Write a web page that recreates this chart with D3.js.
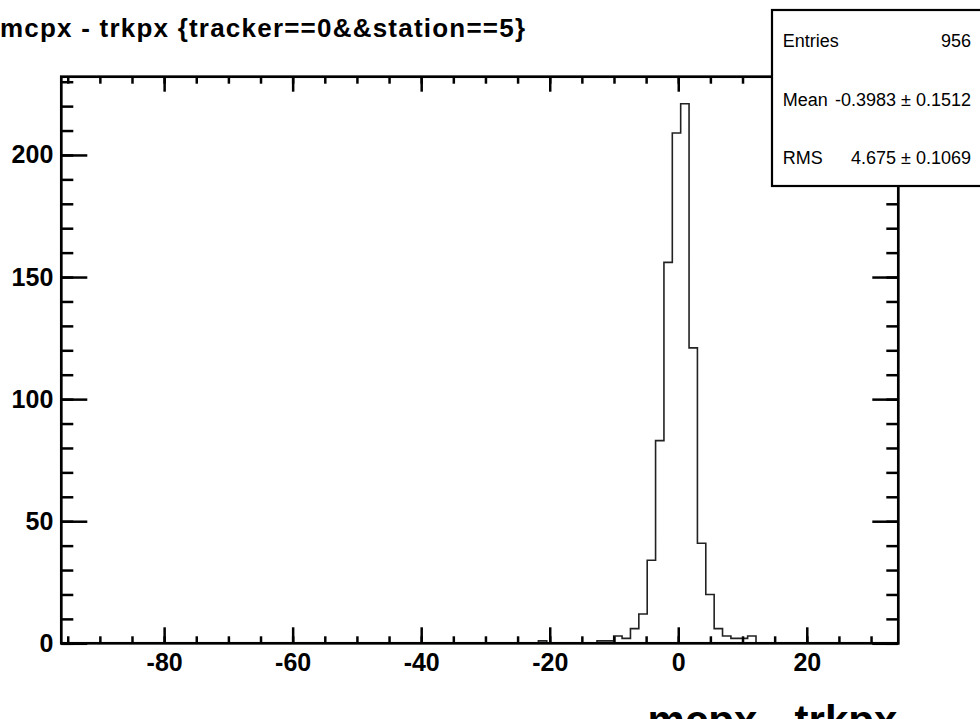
<!DOCTYPE html>
<html>
<head>
<meta charset="utf-8">
<script src="https://cdn.jsdelivr.net/npm/d3@7"></script>
<style>
  html, body { margin: 0; padding: 0; background: #fff; overflow: hidden; }
  svg { display: block; font-family: "Liberation Sans", Arial, sans-serif; }
</style>
</head>
<body>
<div id="chart"></div>
<script>
// mcpx - trkpx, 100 equal bins between xMin and xMax
const xMin = -96.0;
const xMax = 34.24;
const yMax = 232.05;
const counts = [
  0, 0, 0, 0, 0, 0, 0, 0, 0, 0,
  0, 0, 0, 0, 0, 0, 0, 0, 0, 0,
  0, 0, 0, 0, 0, 0, 0, 0, 0, 0,
  0, 0, 0, 0, 0, 0, 0, 0, 0, 0,
  0, 0, 0, 0, 0, 0, 0, 0, 0, 0,
  0, 0, 0, 0, 0, 0, 0, 1, 0, 0,
  0, 0, 0, 0, 1, 1, 3, 2, 6, 12,
  34, 83, 156, 209, 221, 121, 41, 20, 6, 3,
  2, 2, 3, 0, 0, 0, 0, 0, 0, 0,
  0, 0, 0, 0, 0, 0, 0, 0, 0, 0
];
const xMajorTicks = [-80, -60, -40, -20, 0, 20];
const yMajorTicks = [0, 50, 100, 150, 200];
const statLabels = ['Entries', 'Mean', 'RMS'];
const statValues = ['956', '-0.3983 \u00b1 0.1512', '4.675 \u00b1 0.1069'];
const title = 'mcpx - trkpx {tracker==0&&station==5}';
const xTitle = 'mcpx - trkpx';

const width = 980;
const height = 719;
const margin = {top: 76.7, right: 81.7, bottom: 75.7, left: 61.3};

const svg = d3.select('#chart')
  .append('svg')
  .attr('width', width)
  .attr('height', height);

const x = d3.scaleLinear()
  .domain([xMin, xMax])
  .range([margin.left, width - margin.right]);

const y = d3.scaleLinear()
  .domain([0, yMax])
  .range([height - margin.bottom, margin.top]);

const xMinor = d3.range(-95, xMax, 5);
const yMinor = d3.range(0, yMax, 10);
const binWidth = (xMax - xMin) / counts.length;

// step outline of the histogram
const pts = [[xMin, 0]];
counts.forEach((c, i) => {
  pts.push([xMin + i * binWidth, c]);
  pts.push([xMin + (i + 1) * binWidth, c]);
});
pts.push([xMax, 0]);

const line = d3.line()
  .x(d => x(d[0]))
  .y(d => y(d[1]));

svg.append('path')
  .datum(pts)
  .attr('fill', 'none')
  .attr('stroke', '#222')
  .attr('stroke-width', 1.6)
  .attr('d', line);

const styleAxis = g => {
  g.select('.domain').remove();
  g.selectAll('.tick line').attr('stroke', '#000').attr('stroke-width', 2.5);
  g.selectAll('.tick text')
    .attr('fill', '#000')
    .attr('font-size', 25)
    .attr('font-weight', 'bold')
    .attr('font-family', '"Liberation Sans", Arial, sans-serif');
};

const bottom = height - margin.bottom;
const right = width - margin.right;

svg.append('g')
  .attr('transform', `translate(0,${bottom})`)
  .call(d3.axisBottom(x).tickValues(xMinor).tickSize(-7).tickFormat(''))
  .call(styleAxis);
svg.append('g')
  .attr('transform', `translate(0,${bottom})`)
  .call(d3.axisBottom(x).tickValues(xMajorTicks).tickSize(-16).tickPadding(10).tickFormat(d => String(d)))
  .call(styleAxis);
svg.append('g')
  .attr('transform', `translate(0,${margin.top})`)
  .call(d3.axisTop(x).tickValues(xMinor).tickSize(-7).tickFormat(''))
  .call(styleAxis);
svg.append('g')
  .attr('transform', `translate(0,${margin.top})`)
  .call(d3.axisTop(x).tickValues(xMajorTicks).tickSize(-15).tickFormat(''))
  .call(styleAxis);

svg.append('g')
  .attr('transform', `translate(${margin.left},0)`)
  .call(d3.axisLeft(y).tickValues(yMinor).tickSize(-12).tickFormat(''))
  .call(styleAxis);
svg.append('g')
  .attr('transform', `translate(${margin.left},0)`)
  .call(d3.axisLeft(y).tickValues(yMajorTicks).tickSize(-26).tickPadding(8).tickFormat(d => String(d)))
  .call(styleAxis);
svg.append('g')
  .attr('transform', `translate(${right},0)`)
  .call(d3.axisRight(y).tickValues(yMinor).tickSize(-12).tickFormat(''))
  .call(styleAxis);
svg.append('g')
  .attr('transform', `translate(${right},0)`)
  .call(d3.axisRight(y).tickValues(yMajorTicks).tickSize(-26).tickFormat(''))
  .call(styleAxis);

// frame
svg.append('rect')
  .attr('x', x(xMin))
  .attr('y', y(yMax))
  .attr('width', x(xMax) - x(xMin))
  .attr('height', y(0) - y(yMax))
  .attr('fill', 'none')
  .attr('stroke', '#000')
  .attr('stroke-width', 2.7);

// stats box
const box = {x: 772, y: 10, w: 220, h: 176};
svg.append('rect')
  .attr('x', box.x)
  .attr('y', box.y)
  .attr('width', box.w)
  .attr('height', box.h)
  .attr('fill', '#fff')
  .attr('stroke', '#000')
  .attr('stroke-width', 2.2);

const rowH = box.h / statLabels.length;
statLabels.forEach((lab, i) => {
  const ty = box.y + (i + 0.5) * rowH + 7.5;
  svg.append('text')
    .attr('x', box.x + 10.7)
    .attr('y', ty)
    .attr('font-size', 18)
    .text(lab);
  svg.append('text')
    .attr('x', 971)
    .attr('y', ty)
    .attr('font-size', 18)
    .attr('text-anchor', 'end')
    .text(statValues[i]);
});

svg.append('text')
  .attr('x', 0)
  .attr('y', 37)
  .attr('font-size', 26)
  .attr('font-weight', 'bold')
  .attr('textLength', 525)
  .attr('lengthAdjust', 'spacing')
  .text(title);

svg.append('text')
  .attr('x', right - 1)
  .attr('y', 735)
  .attr('font-size', 42)
  .attr('font-weight', 'bold')
  .attr('text-anchor', 'end')
  .text(xTitle);
</script>
</body>
</html>
